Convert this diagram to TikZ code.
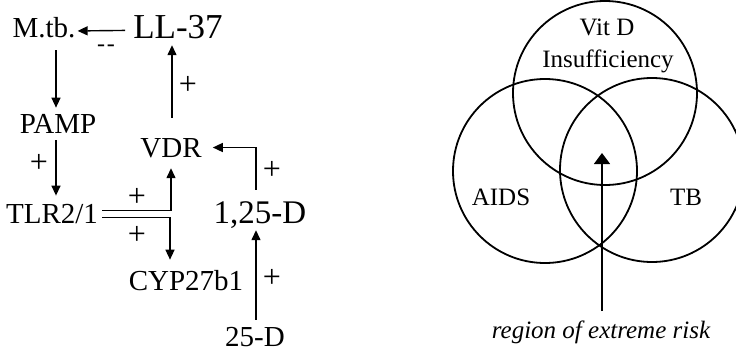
\documentclass[tikz,border=0pt]{standalone}
\usepackage{fontspec}
\setmainfont{Liberation Serif}
\usetikzlibrary{arrows.meta}
\begin{document}
\begin{tikzpicture}[x=1pt,y=-1pt,
  lbl/.style={inner sep=0pt,text depth=0pt,anchor=base,font=\fontsize{29}{30}\selectfont},
  biglbl/.style={lbl,font=\fontsize{33}{34}\selectfont},
  vlbl/.style={inner sep=0pt,text depth=0pt,anchor=base,font=\fontsize{25}{26}\selectfont},
  sign/.style={inner sep=0pt,font=\fontsize{32}{33}\selectfont},
  arr/.style={line width=1.4pt,-{Triangle[length=10pt,width=9pt]}},
  dbl/.style={line width=1.4pt},
  venn/.style={line width=1.8pt}]
\useasboundingbox (0,0) rectangle (736,351);
% left diagram
\node[lbl] (mtb) at (44,37) {M.tb.};
\node[biglbl,font=\fontsize{35}{36}\selectfont] (ll) at (178,38) {LL-37};
\node[lbl] (pamp) at (58,133) {PAMP};
\node[lbl] (vdr) at (171,157) {VDR};
\node[lbl] (tlr) at (52,223) {TLR2/1};
\node[biglbl] (d125) at (260,223) {1,25-D};
\node[lbl] (cyp) at (186,290) {CYP27b1};
\node[lbl] (d25) at (255,346) {25-D};
\draw[arr] ([shift={(-8,4)}]ll.west) -- ([shift={(2,4)}]mtb.east);
\node[sign,font=\fontsize{24}{25}\selectfont] (s0) at (106,48) {-\kern2pt-};
\draw[arr] ([shift={(12,13)}]mtb.south) -- ([shift={(-2,-6)}]pamp.north);
\draw[arr] ([shift={(-2,7)}]pamp.south) -- ([shift={(4,-8)}]tlr.north);
\node[sign] (s1) at (39,163) {+};
\draw[arr] ([shift={(1,-20)}]vdr.north) -- ([shift={(-6,7)}]ll.south);
\node[sign] (s2) at (188,85) {+};
\draw[arr] ([shift={(-4,-11)}]d125.north) |- ([shift={(11,0)}]vdr.east);
\node[sign] (s3) at (272,170) {+};
\draw[arr] ([shift={(1,-7)}]d25.north) -- ([shift={(-4,7)}]d125.south);
\node[sign] (s4) at (272,278) {+};
\draw[dbl,-{Triangle[length=10pt,width=9pt]}] ([shift={(4,-3)}]tlr.east) -| ([shift={(0,11)}]vdr.south);
\draw[dbl,-{Triangle[length=10pt,width=9pt]}] ([shift={(4,4)}]tlr.east) -| ([shift={(-16,-10)}]cyp.north);
\node[sign] (s5) at (137,197) {+};
\node[sign] (s6) at (137,235) {+};
% Venn diagram
\draw[venn] (605,93) circle (92);
\draw[venn] (545,171) circle (92);
\draw[venn] (652,170) circle (92);
\node[vlbl] (vit) at (607,35) {Vit D};
\node[vlbl] (insuf) at (608,67) {Insufficiency};
\node[vlbl] (aids) at (501,205) {AIDS};
\node[vlbl] (tb) at (686,205) {TB};
\node[vlbl,font=\fontsize{25}{26}\selectfont\itshape] (risk) at (601,338) {region of extreme risk};
\coordinate (tip) at (602,153);
\draw[line width=1.4pt,-{Triangle[length=11pt,width=16pt]}] ([shift={(1,-9)}]risk.north) -- (tip);
\end{tikzpicture}
\end{document}
